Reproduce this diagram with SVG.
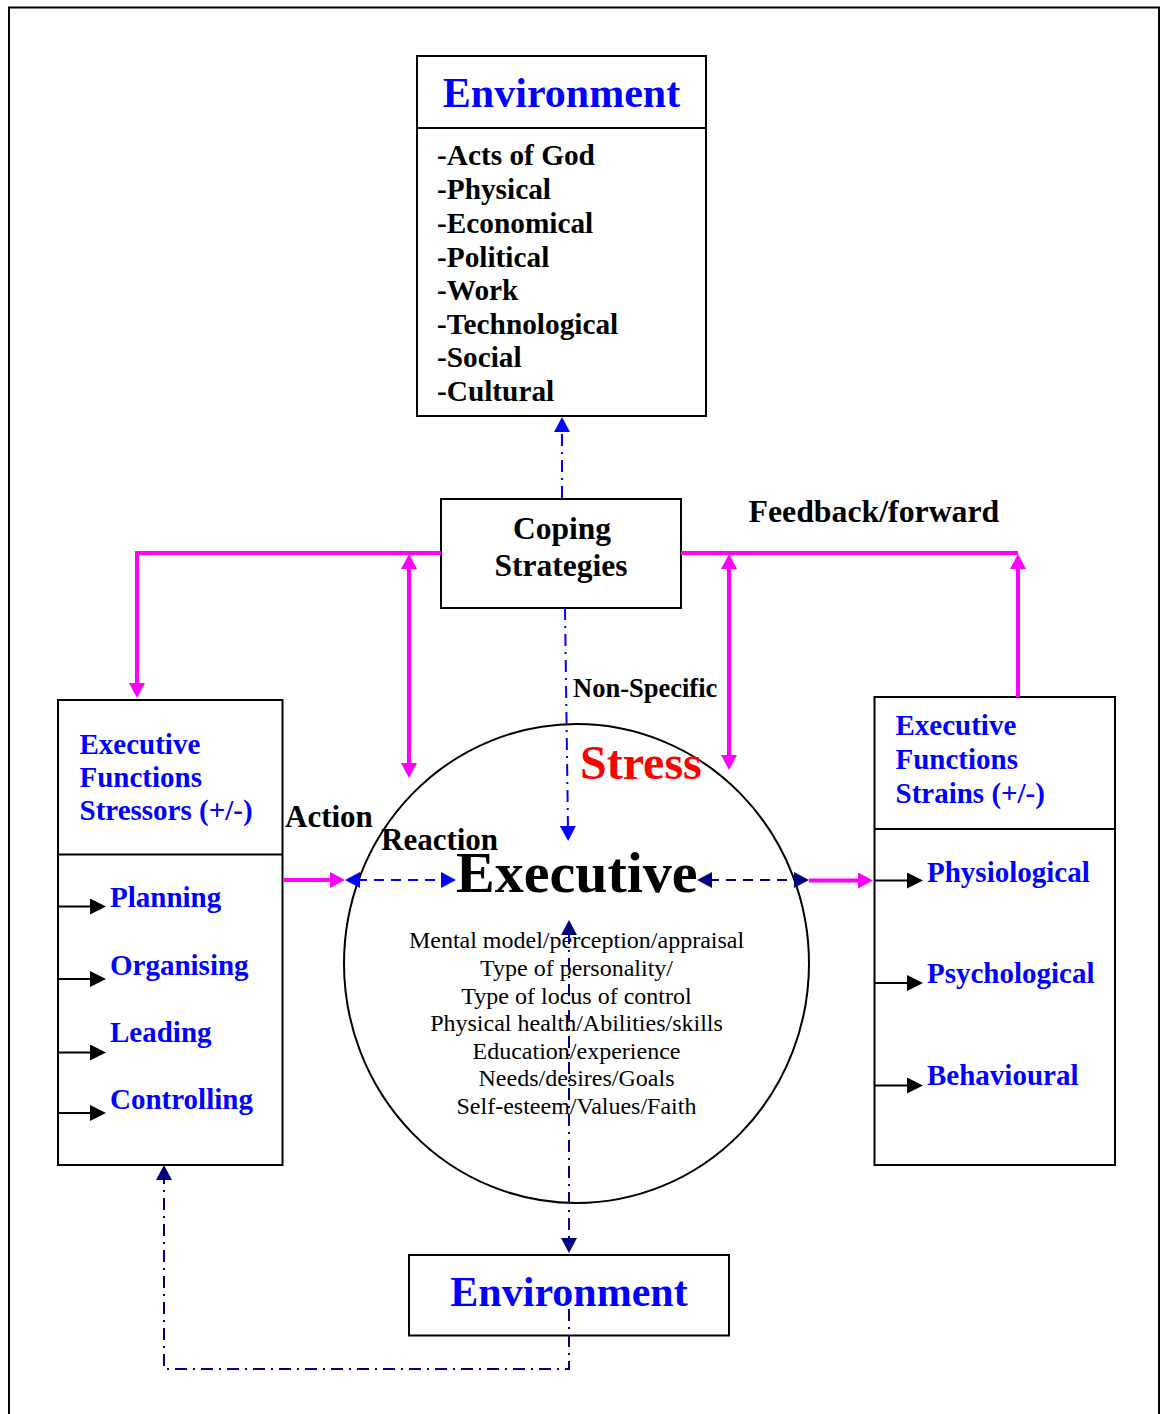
<svg xmlns="http://www.w3.org/2000/svg" width="1160" height="1414" viewBox="0 0 1160 1414">
<style>
text{font-family:"Liberation Serif","Times New Roman",serif;}
.b{font-weight:bold;}
.blue{fill:#0000FF;}
.blk{fill:#000;}
.box{fill:#fff;stroke:#000;stroke-width:2;}
.mag{fill:none;stroke:#FF00FF;stroke-width:4;}
.bl{fill:none;stroke:#0000FF;stroke-width:2;}
.nv{fill:none;stroke:#000080;stroke-width:2;}
.dd{stroke-dasharray:12 6 2 6;}
.ds{stroke-dasharray:10 7;}
.ar{fill:none;stroke:#000;stroke-width:2;}
.ct{font-size:24px;text-anchor:middle;}
</style>
<defs>
<marker id="mM" markerUnits="userSpaceOnUse" markerWidth="16" markerHeight="16" refX="3" refY="8" orient="auto-start-reverse"><path d="M0,0 L15,8 L0,16 z" fill="#FF00FF"/></marker>
<marker id="mB" markerUnits="userSpaceOnUse" markerWidth="16" markerHeight="16" refX="3" refY="8" orient="auto-start-reverse"><path d="M0,0 L15,8 L0,16 z" fill="#0000FF"/></marker>
<marker id="mN" markerUnits="userSpaceOnUse" markerWidth="16" markerHeight="16" refX="3" refY="8" orient="auto-start-reverse"><path d="M0,0 L15,8 L0,16 z" fill="#000080"/></marker>
<marker id="mK" markerUnits="userSpaceOnUse" markerWidth="17" markerHeight="16" refX="4" refY="8" orient="auto"><path d="M0,0 L16,8 L0,16 z" fill="#000"/></marker>
</defs>
<path d="M9,1414 V7.5 H1159 V1414" fill="none" stroke="#000" stroke-width="2"/>

<g id="env-top">
<rect class="box" x="417" y="56" width="289" height="360"/>
<line x1="417" y1="128" x2="706" y2="128" stroke="#000" stroke-width="2"/>
<text class="b blue" x="561.5" y="107" font-size="42" text-anchor="middle">Environment</text>
<g class="b blk" font-size="29.3">
<text x="437" y="165">-Acts of God</text>
<text x="437" y="198.5">-Physical</text>
<text x="437" y="232.5">-Economical</text>
<text x="437" y="266.5">-Political</text>
<text x="437" y="299.5">-Work</text>
<text x="437" y="333.5">-Technological</text>
<text x="437" y="367">-Social</text>
<text x="437" y="401">-Cultural</text>
</g>
</g>

<g id="coping">
<rect class="box" x="441" y="499" width="240" height="109"/>
<text class="b blk" x="562" y="538.5" font-size="31.5" text-anchor="middle">Coping</text>
<text class="b blk" x="561" y="576" font-size="31.5" text-anchor="middle">Strategies</text>
</g>

<g id="executive">
<ellipse cx="576.5" cy="963.5" rx="232.5" ry="239.5" fill="#fff" stroke="#000" stroke-width="2"/>
<text class="b" x="580" y="779" font-size="48" fill="#FF0000">Stress</text>
<text class="b blk" x="456" y="892" font-size="58">Executive</text>
<text class="ct" x="576.5" y="948">Mental model/perception/appraisal</text>
<text class="ct" x="576.5" y="975.5">Type of personality/</text>
<text class="ct" x="576.5" y="1003.5">Type of locus of control</text>
<text class="ct" x="576.5" y="1030.5">Physical health/Abilities/skills</text>
<text class="ct" x="576.5" y="1058.5">Education/experience</text>
<text class="ct" x="576.5" y="1085.5">Needs/desires/Goals</text>
<text class="ct" x="576.5" y="1113.5">Self-esteem/Values/Faith</text>
</g>

<g id="stressors">
<rect class="box" x="58" y="700" width="224.5" height="465"/>
<line x1="58" y1="854.5" x2="282.5" y2="854.5" stroke="#000" stroke-width="2"/>
<g class="b blue" font-size="29">
<text x="79.5" y="753.5">Executive</text>
<text x="79.5" y="787">Functions</text>
<text x="79.5" y="820">Stressors (+/-)</text>
<text x="110" y="906.5">Planning</text>
<text x="110" y="975">Organising</text>
<text x="110" y="1041.5">Leading</text>
<text x="110" y="1108.5">Controlling</text>
</g>
<path class="ar" d="M59,906.5 H94" marker-end="url(#mK)"/>
<path class="ar" d="M59,979 H94" marker-end="url(#mK)"/>
<path class="ar" d="M59,1052.5 H94" marker-end="url(#mK)"/>
<path class="ar" d="M59,1113 H94" marker-end="url(#mK)"/>
</g>

<g id="strains">
<rect class="box" x="874.5" y="697" width="240.5" height="468"/>
<line x1="874.5" y1="829" x2="1115" y2="829" stroke="#000" stroke-width="2"/>
<g class="b blue" font-size="29">
<text x="895.5" y="735">Executive</text>
<text x="895.5" y="769">Functions</text>
<text x="895.5" y="803">Strains (+/-)</text>
<text x="927" y="882">Physiological</text>
<text x="927" y="982.5">Psychological</text>
<text x="927" y="1084.5">Behavioural</text>
</g>
<path class="ar" d="M875,880.5 H911" marker-end="url(#mK)"/>
<path class="ar" d="M875,983 H911" marker-end="url(#mK)"/>
<path class="ar" d="M875,1085.5 H911" marker-end="url(#mK)"/>
</g>

<g id="env-bottom">
<rect class="box" x="409" y="1255" width="320" height="80.5"/>
<text class="b blue" x="569" y="1305.5" font-size="42" text-anchor="middle">Environment</text>
</g>

<g id="connectors">
<path class="mag" d="M441,553 H137 V686" marker-end="url(#mM)"/>
<path class="mag" d="M681,553 H1018"/>
<path class="mag" d="M1018,697 V566" marker-end="url(#mM)"/>
<path class="mag" d="M409,566 V766" marker-start="url(#mM)" marker-end="url(#mM)"/>
<path class="mag" d="M729,566 V758" marker-start="url(#mM)" marker-end="url(#mM)"/>
<path class="mag" d="M283,880 H333" marker-end="url(#mM)"/>
<path class="mag" d="M809,880.5 H861" marker-end="url(#mM)"/>
<path class="bl dd" d="M562,498 V429" marker-end="url(#mB)"/>
<path class="bl dd" d="M565,608 L568,829" marker-end="url(#mB)"/>
<path class="bl ds" d="M357,880 H444" marker-start="url(#mB)" marker-end="url(#mB)"/>
<path class="nv ds" d="M709,880 H797" marker-start="url(#mN)" marker-end="url(#mN)"/>
<path class="nv dd" d="M569,932 V1241" marker-start="url(#mN)" marker-end="url(#mN)"/>
<path class="nv dd" d="M569,1309 V1369 H164 V1177" marker-end="url(#mN)"/>
</g>

<g id="labels" class="b blk">
<text x="748.5" y="521.5" font-size="31.8">Feedback/forward</text>
<text x="573" y="696.5" font-size="26.5">Non-Specific</text>
<text x="285" y="826.5" font-size="31">Action</text>
<text x="381" y="850" font-size="31">Reaction</text>
</g>
</svg>
